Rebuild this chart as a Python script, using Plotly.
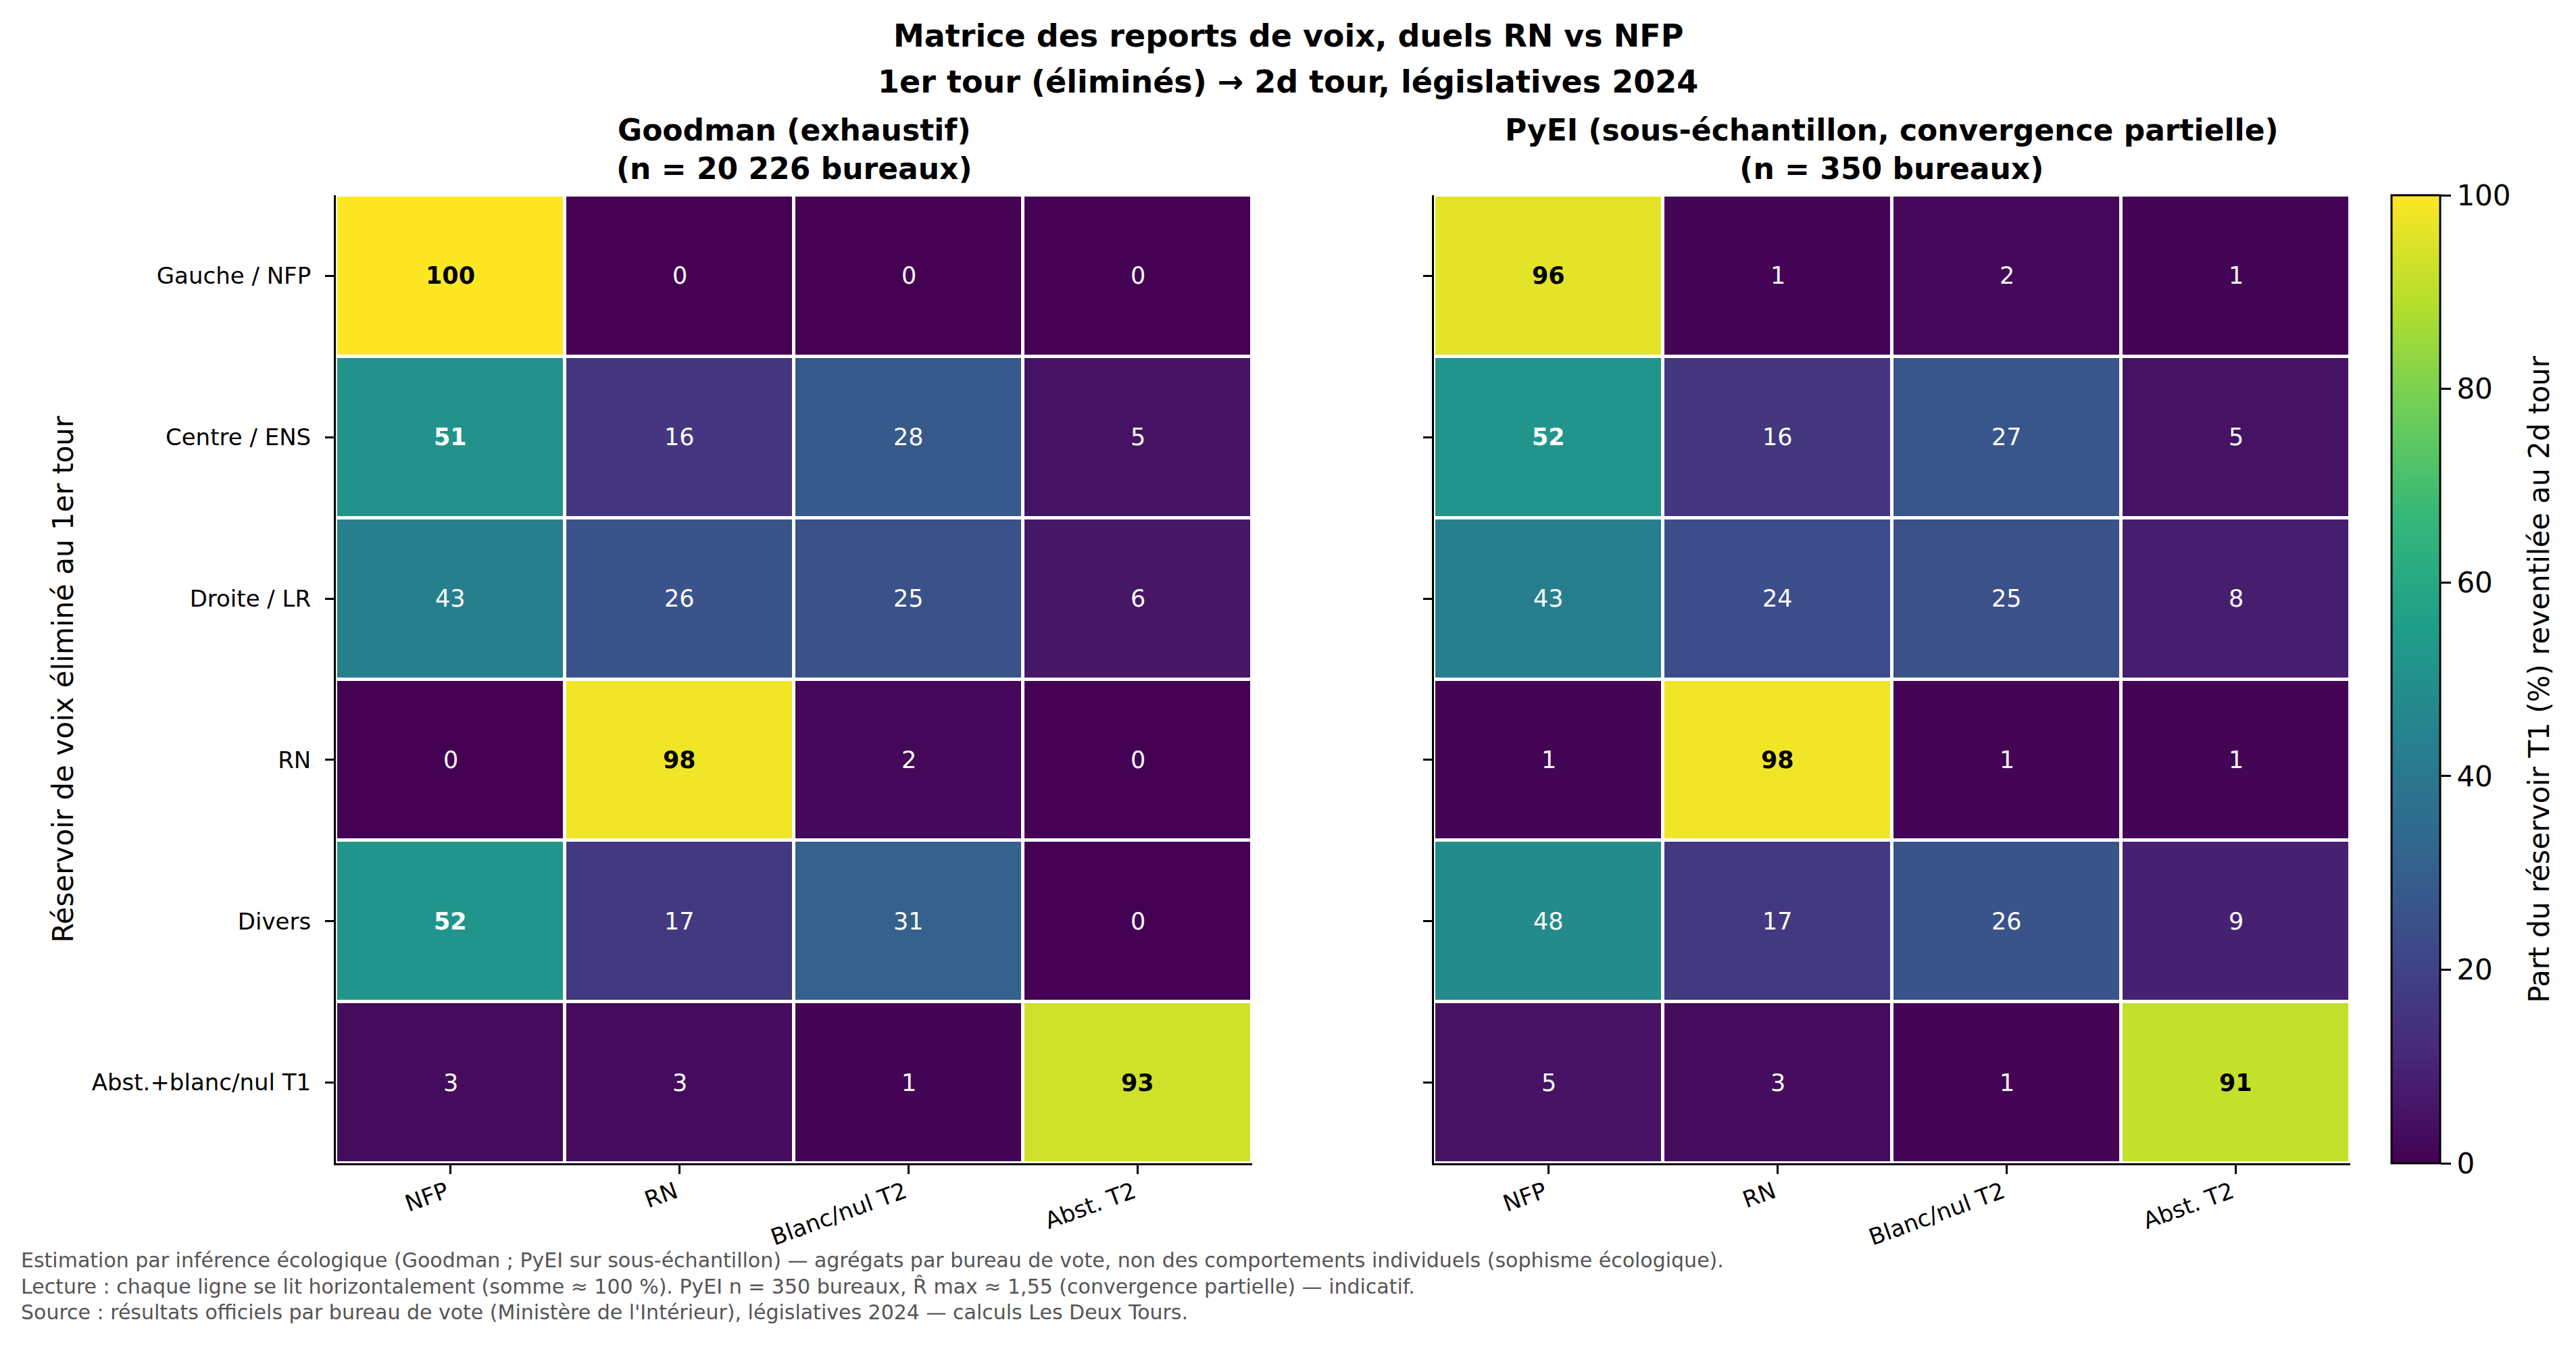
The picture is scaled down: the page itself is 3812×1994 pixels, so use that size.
import plotly.graph_objects as go

# ---------------- data ----------------
rows = ["Gauche / NFP", "Centre / ENS", "Droite / LR", "RN", "Divers", "Abst.+blanc/nul T1"]
cols = ["NFP", "RN", "Blanc/nul T2", "Abst. T2"]

goodman = [
    [100, 0, 0, 0],
    [51, 16, 28, 5],
    [43, 26, 25, 6],
    [0, 98, 2, 0],
    [52, 17, 31, 0],
    [3, 3, 1, 93],
]
pyei = [
    [96, 1, 2, 1],
    [52, 16, 27, 5],
    [43, 24, 25, 8],
    [1, 98, 1, 1],
    [48, 17, 26, 9],
    [5, 3, 1, 91],
]
cbar_ticks = [0, 20, 40, 60, 80, 100]

title_lines = ["Matrice des reports de voix, duels RN vs NFP",
               "1er tour (éliminés) → 2d tour, législatives 2024"]
sub_left = "<b>Goodman (exhaustif)</b><br><b>(n = 20 226 bureaux)</b>"
sub_right = "<b>PyEI (sous-échantillon, convergence partielle)</b><br><b>(n = 350 bureaux)</b>"
ytitle = "Réservoir de voix éliminé au 1er tour"
cbar_title = "Part du réservoir T1 (%) reventilée au 2d tour"
footer = [
    "Estimation par inférence écologique (Goodman ; PyEI sur sous-échantillon) — agrégats par bureau de vote, non des comportements individuels (sophisme écologique).",
    "Lecture : chaque ligne se lit horizontalement (somme ≈ 100 %). PyEI n = 350 bureaux, R̂ max ≈ 1,55 (convergence partielle) — indicatif.",
    "Source : résultats officiels par bureau de vote (Ministère de l'Intérieur), législatives 2024 — calculs Les Deux Tours.",
]

# ---------------- layout constants ----------------
W, H = 3812, 1994
FONT = "DejaVu Sans"
y0, y1 = 1 - 1722 / H, 1 - 289 / H
xl = (497 / W, 1853 / W)
xr = (2122 / W, 3478 / W)

fig = go.Figure()

fig.add_trace(go.Heatmap(
    z=goodman, x=cols, y=rows, colorscale="Viridis", zmin=0, zmax=100,
    xgap=5, ygap=5, showscale=False, xaxis="x", yaxis="y",
))
fig.add_trace(go.Heatmap(
    z=pyei, x=cols, y=rows, colorscale="Viridis", zmin=0, zmax=100,
    xgap=5, ygap=5, xaxis="x2", yaxis="y2",
    colorbar=dict(
        x=3539 / W, xanchor="left", xref="paper", xpad=0,
        y=y0, yanchor="bottom", len=y1 - y0, lenmode="fraction", ypad=0,
        thickness=72, outlinewidth=3, outlinecolor="black",
        tickvals=cbar_ticks, ticks="outside", ticklen=15, tickwidth=3, tickcolor="black",
        tickfont=dict(family=FONT, size=42, color="black"),
    ),
))

annotations = []
for mat, xa, ya in [(goodman, "x", "y"), (pyei, "x2", "y2")]:
    for i, r in enumerate(rows):
        for j, c in enumerate(cols):
            v = mat[i][j]
            txt = f"<b>{v}</b>" if v >= 50 else f"{v}"
            annotations.append(dict(
                x=c, y=r, xref=xa, yref=ya, text=txt, showarrow=False,
                font=dict(family=FONT, size=35, color="black" if v > 70 else "white"),
            ))

# main title (two lines)
for line, yc in zip(title_lines, [53, 121]):
    annotations.append(dict(x=0.5, y=1 - yc / H, xref="paper", yref="paper", xanchor="center",
                            yanchor="middle", text=f"<b>{line}</b>", showarrow=False,
                            font=dict(family=FONT, size=46, color="black")))
# subplot titles
for txt, dom in [(sub_left, xl), (sub_right, xr)]:
    annotations.append(dict(x=(dom[0] + dom[1]) / 2, y=y1, xref="paper", yref="paper",
                            xanchor="center", yanchor="bottom", align="center",
                            yshift=12, text=txt, showarrow=False,
                            font=dict(family=FONT, size=44, color="black")))
# y-axis title
annotations.append(dict(x=93 / W, y=(y0 + y1) / 2, xref="paper", yref="paper", textangle=-90,
                        text=ytitle, showarrow=False, xanchor="center", yanchor="middle",
                        font=dict(family=FONT, size=42, color="black")))
# colorbar title
annotations.append(dict(x=3757 / W, y=(y0 + y1) / 2, xref="paper", yref="paper", textangle=-90,
                        text=cbar_title, showarrow=False, xanchor="center", yanchor="middle",
                        font=dict(family=FONT, size=42, color="black")))
# footer
for line, yc in zip(footer, [1865, 1904, 1942]):
    annotations.append(dict(x=29 / W, y=1 - yc / H, xref="paper", yref="paper", xanchor="left",
                            yanchor="middle", text=line, showarrow=False, align="left",
                            font=dict(family=FONT, size=30, color="#555555")))

axis_common = dict(showline=True, linewidth=3, linecolor="black", ticks="outside",
                   ticklen=13, tickwidth=3, tickcolor="black", showgrid=False, zeroline=False,
                   tickfont=dict(family=FONT, size=34, color="black"))

fig.update_layout(
    width=W, height=H, margin=dict(l=0, r=0, t=0, b=0),
    paper_bgcolor="white", plot_bgcolor="white",
    font=dict(family=FONT, color="black"),
    xaxis=dict(domain=list(xl), anchor="y", range=[-0.5, 3.5], tickangle=-20,
               ticklabelstandoff=-6, ticklabelshift=-6,
               categoryorder="array", categoryarray=cols, **axis_common),
    yaxis=dict(domain=[y0, y1], anchor="x", range=[5.5, -0.5], ticklabelstandoff=14,
               categoryorder="array", categoryarray=rows, **axis_common),
    xaxis2=dict(domain=list(xr), anchor="y2", range=[-0.5, 3.5], tickangle=-20,
                ticklabelstandoff=-6, ticklabelshift=-6,
                categoryorder="array", categoryarray=cols, **axis_common),
    yaxis2=dict(domain=[y0, y1], anchor="x2", range=[5.5, -0.5], showticklabels=False,
                categoryorder="array", categoryarray=rows, **axis_common),
    annotations=annotations,
)

fig.write_html("out.html")
